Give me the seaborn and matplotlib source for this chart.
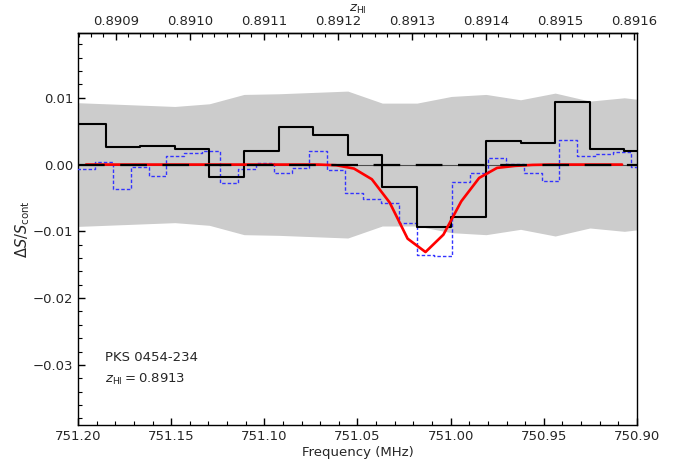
import numpy as np
import matplotlib
matplotlib.use("Agg")
import matplotlib.pyplot as plt
import seaborn as sns
from matplotlib.ticker import MultipleLocator, AutoMinorLocator, FuncFormatter

# ---------------- data ----------------
# coarse channels (black histogram): channel edges and values
black_edges = [751.2037, 751.1851, 751.1666, 751.1480, 751.1295, 751.1109, 751.0923, 751.0738,
               751.0552, 751.0367, 751.0181, 750.9996, 750.9810, 750.9625, 750.9439, 750.9253,
               750.9068, 750.8882]
black_vals = [0.0061, 0.0026, 0.0028, 0.0024, -0.0018, 0.0020, 0.0056,
              0.0045, 0.0015, -0.0034, -0.0093, -0.0078, 0.0035, 0.0033,
              0.0093, 0.0024, 0.0021]

# fine channels (blue histogram): channel centres and values
blue_freq = [751.1957, 751.1861, 751.1765, 751.1669, 751.1573, 751.1478, 751.1382, 751.1286,
             751.1190, 751.1094, 751.0998, 751.0902, 751.0806, 751.0710, 751.0614, 751.0519,
             751.0423, 751.0327, 751.0231, 751.0135, 751.0039, 750.9943, 750.9847, 750.9751,
             750.9655, 750.9560, 750.9464, 750.9368, 750.9272, 750.9176, 750.9080, 750.8984]
blue_vals = [-0.0006, 0.00035, -0.0036, -0.0003, -0.00165, 0.00125, 0.00175, 0.0021,
             -0.00275, -0.0006, 0.0002, -0.00125, -0.0005, 0.0020, -0.00075, -0.0042,
             -0.0051, -0.0057, -0.0087, -0.0135, -0.0137, -0.0026, -0.0012, 0.0010,
             0.0001, -0.00125, -0.0025, 0.0037, 0.00135, 0.0016, 0.0019, -0.0004]

# model fit (red), evaluated at the fine channel centres
red_freq = blue_freq[:31]
red_vals = [0, 0, 0, 0, 0, 0, 0, 0, 0, 0, 0, 0, 0, 0, -0.0001, -0.0006,
            -0.0022, -0.0057, -0.0111, -0.0131, -0.0105, -0.0055, -0.0020, -0.0005,
            -0.0002, -0.00005, 0, 0, 0, 0, 0]

# noise envelope (grey band), at the coarse channel edges
band_freq = black_edges
band_vals = [0.0093, 0.0091, 0.0089, 0.0087, 0.0091, 0.0105, 0.0106, 0.0108,
             0.0110, 0.0092, 0.0092, 0.0102, 0.0105, 0.0097, 0.0107, 0.0095,
             0.0100, 0.0094]

z_ticks = [0.8909, 0.8910, 0.8911, 0.8912, 0.8913, 0.8914, 0.8915, 0.8916]
source_name = "PKS 0454-234"
z_source = 0.8913
REST = 1420.405751768

# ---------------- style ----------------
sns.set_theme(style="ticks")
plt.rcParams["font.family"] = ["DejaVu Sans"]
plt.rcParams["mathtext.fontset"] = "dejavusans"
plt.rcParams["font.size"] = 9.5
plt.rcParams["axes.labelsize"] = 9.5
plt.rcParams["xtick.labelsize"] = 9.5
plt.rcParams["ytick.labelsize"] = 9.5
plt.rcParams["axes.edgecolor"] = "black"
plt.rcParams["axes.linewidth"] = 1.0

fig = plt.figure(figsize=(6.76, 4.63), dpi=100)
ax = fig.add_axes([78 / 676, 1 - 425 / 463, 559 / 676, 392 / 463])

bf = np.array(band_freq)
bv = np.array(band_vals)
ax.fill_between(bf, -bv, bv, color="#cccccc", lw=0, zorder=1)
ax.axhline(0, color="0.3", lw=0.8, zorder=2)

# blue: build edges from the channel centres, draw as stairs
bc = np.array(blue_freq)
mids = (bc[:-1] + bc[1:]) / 2
half = (bc[0] - bc[1]) / 2
blue_edges = np.concatenate([[bc[0] + half], mids, [bc[-1] - half]])
blue_y = np.append(blue_vals, blue_vals[-1])
sns.lineplot(x=blue_edges, y=blue_y, ax=ax, drawstyle="steps-post", color="#3333ff",
             lw=1.0, linestyle=(0, (2.5, 1.5)), sort=False, estimator=None, zorder=3)

black_y = np.append(black_vals, black_vals[-1])
sns.lineplot(x=black_edges, y=black_y, ax=ax, drawstyle="steps-post", color="black",
             lw=1.5, sort=False, estimator=None, zorder=4)
sns.lineplot(x=red_freq, y=red_vals, ax=ax, color="red", lw=1.9,
             sort=False, estimator=None, zorder=5)
ax.axhline(0, color="black", lw=1.6, dashes=(12, 7), zorder=6)

ax.set_xlim(751.20, 750.90)
ax.set_ylim(-0.039, 0.0197)

ax.xaxis.set_major_locator(MultipleLocator(0.05))
ax.xaxis.set_minor_locator(MultipleLocator(0.01))
ax.xaxis.set_major_formatter(FuncFormatter(lambda v, p: f"{v:.2f}"))
ax.yaxis.set_major_locator(MultipleLocator(0.01))
ax.yaxis.set_minor_locator(MultipleLocator(0.002))
ax.yaxis.set_major_formatter(FuncFormatter(lambda v, p: f"{v:.2f}".replace("-", "\u2212")))

ax.tick_params(which="both", direction="in", top=False, right=False, color="black")
ax.tick_params(which="major", length=5, width=1)
ax.tick_params(which="minor", length=3, width=0.8)

ax.set_xlabel("Frequency (MHz)", labelpad=2)
ax.set_ylabel(r"$\Delta S/S_{\rm cont}$", labelpad=0.5, fontsize=10.5)


def f2z(f):
    f = np.asarray(f, dtype=float)
    with np.errstate(divide="ignore", invalid="ignore"):
        return REST / f - 1


def z2f(z):
    z = np.asarray(z, dtype=float)
    with np.errstate(divide="ignore", invalid="ignore"):
        return REST / (1 + z)


sec = ax.secondary_xaxis("top", functions=(f2z, z2f))
sec.set_xticks(z_ticks)
sec.xaxis.set_major_formatter(FuncFormatter(lambda v, p: f"{v:.4f}"))
sec.xaxis.set_minor_locator(AutoMinorLocator(6))
sec.tick_params(which="both", direction="in", color="black")
sec.tick_params(which="major", length=5, width=1)
sec.tick_params(which="minor", length=3, width=0.8)
sec.set_xlabel(r"$z_{\rm HI}$", labelpad=2)

ax.text(0.048, 0.171, source_name, transform=ax.transAxes, va="center", ha="left", fontsize=9.5)
ax.text(0.048, 0.115, rf"$z_{{\rm HI}} = {z_source:.4f}$", transform=ax.transAxes,
        va="center", ha="left", fontsize=9.5)

fig.savefig("out.png", dpi=100)
